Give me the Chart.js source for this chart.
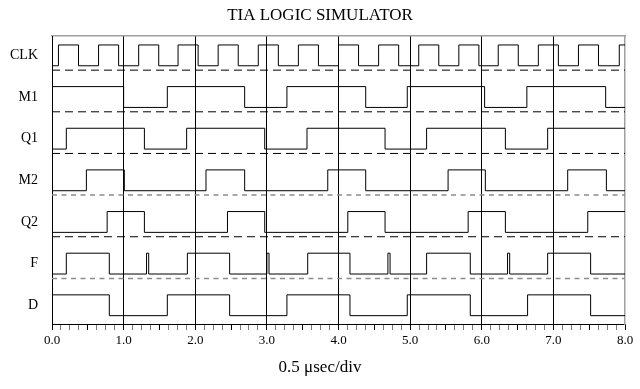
<!DOCTYPE html>
<html>
<head>
<meta charset="utf-8">
<script src="https://cdn.jsdelivr.net/npm/chart.js@4.4.0/dist/chart.umd.min.js"></script>
<style>
  html, body { margin: 0; padding: 0; background: #fff; }
  #wrap { width: 640px; height: 389px; }
</style>
</head>
<body>
<div id="wrap"><canvas id="timingChart"></canvas></div>
<script>
// signal rows, top to bottom
const signalNames = ['CLK', 'M1', 'Q1', 'M2', 'Q2', 'F', 'D'];

// start level (0/1) and toggle times in usec
const clkStart = 0;
const clkEdges = [0.09, 0.37, 0.65, 0.93, 1.21, 1.49, 1.76, 2.04, 2.32, 2.60, 2.88, 3.16, 3.44, 3.72,
  4.00, 4.28, 4.56, 4.84, 5.12, 5.40, 5.68, 5.96, 6.23, 6.51, 6.79, 7.07, 7.35, 7.63, 7.92];
const m1Start = 1;
const m1Edges = [1.00, 1.61, 2.69, 3.28, 4.38, 4.96, 6.04, 6.63, 7.73];
const q1Start = 0;
const q1Edges = [0.20, 1.29, 1.88, 2.97, 3.56, 4.65, 5.23, 6.33, 6.92];
const m2Start = 0;
const m2Edges = [0.48, 1.01, 2.15, 2.69, 3.85, 4.38, 5.53, 6.05, 7.20, 7.74];
const q2Start = 0;
const q2Edges = [0.77, 1.29, 2.45, 2.97, 4.13, 4.65, 5.81, 6.33, 7.48];
const fStart = 0;
const fEdges = [0.20, 0.80, 1.32, 1.35, 1.89, 2.48, 3.00, 3.03, 3.57, 4.16, 4.69, 4.72,
  5.23, 5.84, 6.36, 6.39, 6.92, 7.52];
const dStart = 1;
const dEdges = [0.80, 1.61, 2.48, 3.28, 4.16, 4.96, 5.84, 6.64, 7.52];

// rows that get a dashed zero line under them, and which of those are grey
const baselineRows = ['CLK', 'M1', 'Q1', 'M2', 'Q2', 'F'];
const baselineGrey = ['M2', 'F'];

const xTickLabels = ['0.0', '1.0', '2.0', '3.0', '4.0', '5.0', '6.0', '7.0', '8.0'];

const signals = [
  [clkStart, clkEdges], [m1Start, m1Edges], [q1Start, q1Edges], [m2Start, m2Edges],
  [q2Start, q2Edges], [fStart, fEdges], [dStart, dEdges]
];

const T_END = 8;
const rowBase = name => signalNames.length - 1 - signalNames.indexOf(name);

function tracePoints(name, start, edges) {
  const k = rowBase(name);
  const lo = k + 0.2, hi = k + 0.7;
  let level = start;
  const pts = [{ x: 0, y: level ? hi : lo }];
  edges.forEach(t => {
    level = 1 - level;
    pts.push({ x: t, y: level ? hi : lo });
  });
  pts.push({ x: T_END, y: level ? hi : lo });
  return pts;
}

const datasets = [];
baselineRows.forEach(name => {
  const y = rowBase(name) + 0.095;
  const grey = baselineGrey.includes(name);
  datasets.push({
    data: [{ x: 0, y: y }, { x: T_END, y: y }],
    borderColor: grey ? '#8c8c8c' : '#000',
    borderWidth: grey ? 1.5 : 1,
    borderDash: grey ? [5, 4.5] : [8, 5]
  });
});
signalNames.forEach((name, i) => {
  datasets.push({
    data: tracePoints(name, signals[i][0], signals[i][1]),
    borderColor: '#000',
    borderWidth: 1,
    stepped: true
  });
});
datasets.forEach(ds => {
  ds.showLine = true;
  ds.pointRadius = 0;
  ds.fill = false;
});

const serif = '"Liberation Serif", "DejaVu Serif", serif';

new Chart(document.getElementById('timingChart'), {
  type: 'scatter',
  data: { datasets: datasets },
  options: {
    responsive: true,
    maintainAspectRatio: false,
    animation: false,
    layout: { padding: 0 },
    plugins: {
      legend: { display: false },
      tooltip: { enabled: false },
      title: {
        display: true,
        text: 'TIA LOGIC SIMULATOR',
        color: '#000',
        font: { family: serif, size: 17, weight: 'normal' },
        padding: { top: 5, bottom: 10.6 }
      },
      subtitle: {
        display: true,
        position: 'bottom',
        text: '0.5 \u03bcsec/div',
        color: '#000',
        font: { family: serif, size: 17 },
        padding: { top: 4, bottom: 11 }
      }
    },
    scales: {
      x: {
        type: 'linear',
        min: 0,
        max: T_END,
        afterFit: s => { s.height = 29.6; },
        border: { color: '#000', width: 1 },
        grid: {
          color: c => {
            const v = c.tick ? c.tick.value : 0;
            return (Number.isInteger(v) && v > 0 && v < T_END) ? '#000' : 'rgba(0,0,0,0)';
          },
          tickColor: c => (c.tick && Number.isInteger(c.tick.value * 2)) ? '#000' : '#777',
          tickLength: 6,
          lineWidth: 1
        },
        ticks: {
          stepSize: 0.125,
          autoSkip: false,
          maxRotation: 0,
          padding: 3,
          color: '#000',
          font: { family: serif, size: 13 },
          callback: v => Number.isInteger(v) ? xTickLabels[v] : ''
        }
      },
      x2: {
        type: 'linear',
        position: 'top',
        min: 0,
        max: T_END,
        afterFit: s => { s.height = 0; },
        border: { color: '#a0a0a0', width: 1.5 },
        grid: { drawOnChartArea: false, drawTicks: false },
        ticks: { display: false }
      },
      y: {
        type: 'linear',
        min: 0,
        max: 6.915,
        afterFit: s => { s.width = 52; },
        afterBuildTicks: s => {
          s.ticks = signalNames.map(name => ({ value: rowBase(name) + 0.45 }));
        },
        border: { color: '#000', width: 1 },
        grid: { display: false, drawTicks: false },
        ticks: {
          padding: 14,
          color: '#000',
          font: { family: serif, size: 14 },
          callback: v => signalNames[signalNames.length - 1 - Math.floor(v)]
        }
      },
      y2: {
        type: 'linear',
        position: 'right',
        min: 0,
        max: 6.915,
        afterFit: s => { s.width = 15; },
        border: { color: '#a0a0a0', width: 1.5 },
        grid: { drawOnChartArea: false, drawTicks: false },
        ticks: { display: false }
      }
    }
  }
});
</script>
</body>
</html>
